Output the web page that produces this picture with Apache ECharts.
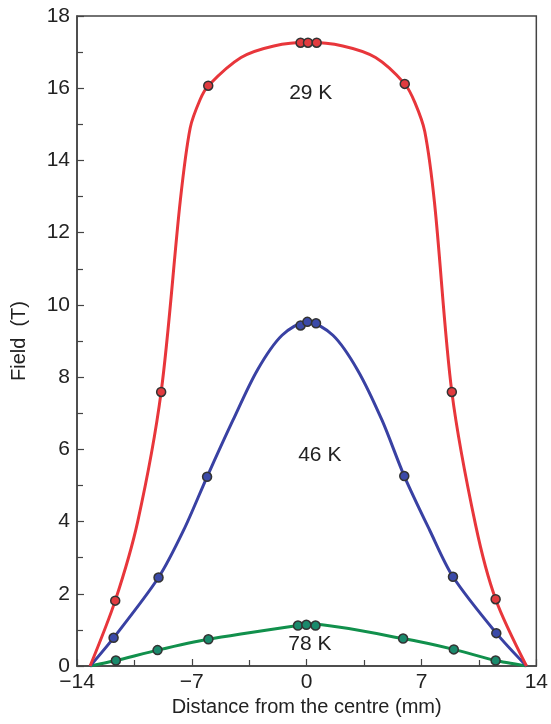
<!DOCTYPE html>
<html>
<head>
<meta charset="utf-8">
<script src="https://cdn.jsdelivr.net/npm/echarts@6/dist/echarts.min.js"></script>
<style>
  html, body { margin: 0; padding: 0; background: #fff; }
  #chart { width: 551px; height: 724px; }
</style>
</head>
<body>
<div id="chart"></div>
<script>
// measured points (x in mm, field in T)
const pts29 = [[-11.67, 1.81], [-8.87, 7.59], [-6.0, 16.07], [-0.37, 17.26], [0.08, 17.26], [0.61, 17.26], [5.98, 16.12], [8.85, 7.59], [11.52, 1.85]];
const pts46 = [[-11.77, 0.78], [-9.03, 2.45], [-6.07, 5.24], [-0.37, 9.43], [0.04, 9.53], [0.57, 9.49], [5.95, 5.26], [8.92, 2.47], [11.56, 0.91]];
const pts78 = [[-11.63, 0.15], [-9.09, 0.44], [-5.99, 0.74], [-0.53, 1.12], [-0.02, 1.14], [0.54, 1.12], [5.88, 0.76], [8.97, 0.46], [11.52, 0.15]];

// fitted curves
const curve29 = [[-13.2, 0], [-11.67, 1.81], [-10.3, 4.0], [-8.87, 7.59], [-7.7, 12.9], [-7.1, 14.9], [-6.5, 15.68], [-6.0, 16.07], [-4.0, 16.85], [-2.0, 17.17], [0.08, 17.27], [2.2, 17.17], [4.2, 16.85], [5.98, 16.12], [6.6, 15.6], [7.2, 14.8], [7.8, 12.8], [8.85, 7.59], [10.3, 3.9], [11.52, 1.85], [13.4, 0]];
const curve46 = [[-13.2, 0], [-11.77, 0.78], [-9.03, 2.45], [-7.5, 3.76], [-6.07, 5.24], [-4.5, 6.8], [-3.0, 8.2], [-1.5, 9.16], [0.04, 9.53], [1.6, 9.16], [3.1, 8.2], [4.6, 6.8], [5.95, 5.26], [7.5, 3.76], [8.92, 2.47], [11.56, 0.91], [13.4, 0]];
const curve78 = [[-13.2, 0], [-11.63, 0.15], [-9.09, 0.44], [-5.99, 0.74], [-0.53, 1.12], [0.3, 1.16], [5.88, 0.76], [8.97, 0.46], [11.52, 0.15], [13.4, 0]];

// temperature labels
const tempLabels = [[0.25, 15.85, '29 K'], [0.8, 5.84, '46 K'], [0.2, 0.6, '78 K']];

const font = '"Liberation Sans", Arial, sans-serif';
const axisColor = '#444';
const textColor = '#222';

const chart = echarts.init(document.getElementById('chart'));

const lineSeries = (data, color, smooth) => ({
  type: 'line',
  data: data,
  smooth: smooth,
  showSymbol: false,
  lineStyle: { color: color, width: 3 },
  z: 2
});

const dotSeries = (data, fill) => ({
  type: 'scatter',
  data: data,
  symbolSize: 9,
  itemStyle: { color: fill, borderColor: '#333', borderWidth: 1.5, opacity: 1 },
  z: 3
});

chart.setOption({
  animation: false,
  grid: {
    left: 77, right: 14, top: 16, bottom: 58,
    show: true, borderColor: axisColor, borderWidth: 1.5
  },
  xAxis: {
    type: 'value',
    min: -14, max: 14, interval: 7,
    name: 'Distance from the centre (mm)',
    nameLocation: 'middle',
    nameGap: 28,
    nameTextStyle: { fontFamily: font, fontSize: 20, color: textColor },
    axisLine: { onZero: false, lineStyle: { color: axisColor, width: 1.5 } },
    axisTick: { inside: true, length: 7, lineStyle: { color: axisColor, width: 1.2 } },
    minorTick: { show: true, splitNumber: 2, length: 6, lineStyle: { color: axisColor, width: 1.2 } },
    axisLabel: {
      fontFamily: font, fontSize: 21, color: textColor, margin: 6,
      formatter: v => (v < 0 ? '\u2212' + (-v) : String(v))
    },
    splitLine: { show: false }
  },
  yAxis: {
    type: 'value',
    min: 0, max: 18, interval: 2,
    name: 'Field  (T)',
    nameLocation: 'middle',
    nameGap: 48,
    nameTextStyle: { fontFamily: font, fontSize: 20, color: textColor },
    axisLine: { show: true, onZero: false, lineStyle: { color: axisColor, width: 1.5 } },
    axisTick: { inside: true, length: 7, lineStyle: { color: axisColor, width: 1.2 } },
    minorTick: { show: true, splitNumber: 2, length: 6, lineStyle: { color: axisColor, width: 1.2 } },
    axisLabel: { fontFamily: font, fontSize: 21, color: textColor, margin: 7 },
    splitLine: { show: false }
  },
  series: [
    lineSeries(curve78, '#11904c', 0.2),
    lineSeries(curve46, '#3941a3', 0.3),
    lineSeries(curve29, '#e8363b', 0.3),
    dotSeries(pts78, '#1a8a6c'),
    dotSeries(pts46, '#3b4aa8'),
    dotSeries(pts29, '#e13b3f'),
    {
      type: 'scatter',
      data: tempLabels,
      symbolSize: 0,
      silent: true,
      itemStyle: { opacity: 1 },
      label: {
        show: true,
        position: 'inside',
        formatter: p => p.data[2],
        fontFamily: font, fontSize: 21, color: textColor
      },
      z: 4
    }
  ]
});
</script>
</body>
</html>
